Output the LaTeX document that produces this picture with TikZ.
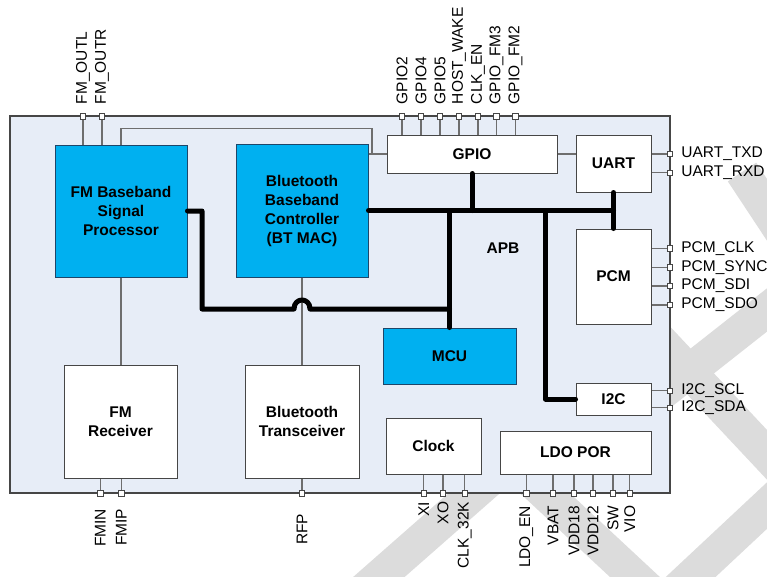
\documentclass[tikz,border=0pt]{standalone}
\usepackage{fontspec}
\setmainfont{Liberation Sans}
\usetikzlibrary{positioning}
\definecolor{chipbg}{RGB}{231,237,247}
\definecolor{bbblue}{RGB}{0,176,240}
\definecolor{bbedge}{RGB}{30,70,105}
\definecolor{edgegray}{RGB}{70,70,70}
\definecolor{wiregray}{RGB}{110,110,110}
\definecolor{wmgray}{RGB}{220,220,220}

\begin{document}
\begin{tikzpicture}[x=1pt, y=-1pt,
  blk/.style={draw=edgegray, fill=white, line width=1pt, rectangle, align=center, inner sep=0pt, font=\fontsize{15.5}{19}\selectfont\bfseries},
  bbx/.style={blk, fill=bbblue, draw=bbedge},
  pin/.style={draw=edgegray, fill=white, line width=0.8pt, rectangle, minimum size=5.5pt, inner sep=0pt},
  lbl/.style={inner sep=0pt, font=\fontsize{15.5}{18}\selectfont},
  bus/.style={line width=5pt, line cap=round, line join=round},
  wire/.style={draw=wiregray, line width=1.1pt},
  wmark/.style={draw=wmgray, line width=34pt}]
\useasboundingbox (0,0) rectangle (767,576);

\begin{scope}
\clip (0,0) rectangle (767,576);
\draw[wmark] (742,172) -- (810,275);
\draw[wmark] (805,280) -- (640,410);
\draw[wmark] (650,330) -- (800,490);
\draw[wmark] (805,470) -- (650,615);
\draw[wmark] (520,470) -- (665,605);
\draw[wmark] (347,605) -- (512,460);
\end{scope}

\node[draw=edgegray, fill=chipbg, line width=1.2pt, minimum width=660, minimum height=377, inner sep=0pt] (chip) at (340,304.5) {};

\node[bbx, minimum width=132, minimum height=132] (fmbb) at (121,211) {FM Baseband\\Signal\\Processor};
\node[bbx, minimum width=132, minimum height=133] (btbb) at (302,210.5) {Bluetooth\\Baseband\\Controller\\(BT MAC)};
\node[blk, minimum width=170, minimum height=38] (gpio) at (472,154) {GPIO};
\node[blk, minimum width=75, minimum height=57] (uart) at (613.5,163.5) {UART};
\node[blk, minimum width=75, minimum height=95] (pcm) at (613.5,276.5) {PCM};
\node[blk, minimum width=75, minimum height=32] (i2c) at (613.5,399) {I2C};
\node[bbx, minimum width=133, minimum height=56] (mcu) at (449.5,356) {MCU};
\node[blk, minimum width=113, minimum height=113] (fmrx) at (120.5,421.5) {FM\\Receiver};
\node[blk, minimum width=114, minimum height=113] (bttx) at (302,421.5) {Bluetooth\\Transceiver};
\node[blk, minimum width=95, minimum height=56] (clock) at (433.5,446) {Clock};
\node[blk, minimum width=151, minimum height=43] (ldo) at (575.5,452.5) {LDO POR};
\node[font=\fontsize{15.5}{18}\selectfont\bfseries] (apb) at (503,248) {APB};

\coordinate (loop) at (372,128.5);
\draw[wire] (fmbb.north) |- (loop) |- (gpio.west);
\draw[wire] (btbb.east |- gpio.west) -- (gpio.west);
\draw[wire] (gpio.east) -- (gpio.east -| uart.west);
\draw[wire] (fmbb.south) -- (fmbb.south |- fmrx.north);
\draw[wire] (btbb.south) -- (btbb.south |- bttx.north);

\coordinate (fmtap) at (202,211);
\coordinate (lowbus) at (202,309);
\coordinate (hopl) at (294,309);
\coordinate (hopr) at (310,309);
\coordinate (i2ctap) at (545.5,210.5);
\draw[bus] (fmbb.east) -- (fmtap) -- (lowbus) -- (hopl) .. controls ([yshift=12pt]hopl) and ([yshift=12pt]hopr) .. (hopr) -- (mcu.north |- lowbus);
\draw[bus] (btbb.east) -- (btbb.east -| uart.south);
\draw[bus] (uart.south) -- (pcm.north);
\draw[bus] (gpio.south) -- (gpio.south |- btbb.east);
\draw[bus] (mcu.north) -- (mcu.north |- btbb.east);
\draw[bus] (i2ctap) |- (i2c.west);

\node[pin] (p-fmoutl) at (83,116.5) {};
\node[pin] (p-fmoutr) at (102,116.5) {};
\node[pin] (p-gpio2) at (402,116.5) {};
\node[pin] (p-gpio4) at (421,116.5) {};
\node[pin] (p-gpio5) at (440,116.5) {};
\node[pin] (p-hostwake) at (459,116.5) {};
\node[pin] (p-clken) at (478,116.5) {};
\node[pin] (p-gpiofm3) at (496.5,116.5) {};
\node[pin] (p-gpiofm2) at (515.5,116.5) {};
\draw[wire] (p-fmoutl.south) -- (p-fmoutl |- fmbb.north);
\draw[wire] (p-fmoutr.south) -- (p-fmoutr |- fmbb.north);
\draw[wire] (p-gpio2.south) -- (p-gpio2 |- gpio.north);
\draw[wire] (p-gpio4.south) -- (p-gpio4 |- gpio.north);
\draw[wire] (p-gpio5.south) -- (p-gpio5 |- gpio.north);
\draw[wire] (p-hostwake.south) -- (p-hostwake |- gpio.north);
\draw[wire] (p-clken.south) -- (p-clken |- gpio.north);
\draw[wire] (p-gpiofm3.south) -- (p-gpiofm3 |- gpio.north);
\draw[wire] (p-gpiofm2.south) -- (p-gpiofm2 |- gpio.north);
\node[lbl, rotate=90, anchor=west] (l-fmoutl) at ([yshift=9pt]p-fmoutl.north) {FM\_OUTL};
\node[lbl, rotate=90, anchor=west] (l-fmoutr) at ([yshift=9pt]p-fmoutr.north) {FM\_OUTR};
\node[lbl, rotate=90, anchor=west] (l-gpio2) at ([yshift=9pt]p-gpio2.north) {GPIO2};
\node[lbl, rotate=90, anchor=west] (l-gpio4) at ([yshift=9pt]p-gpio4.north) {GPIO4};
\node[lbl, rotate=90, anchor=west] (l-gpio5) at ([yshift=9pt]p-gpio5.north) {GPIO5};
\node[lbl, rotate=90, anchor=west] (l-hostwake) at ([yshift=9pt]p-hostwake.north) {HOST\_WAKE};
\node[lbl, rotate=90, anchor=west] (l-clken) at ([yshift=9pt]p-clken.north) {CLK\_EN};
\node[lbl, rotate=90, anchor=west] (l-gpiofm3) at ([yshift=9pt]p-gpiofm3.north) {GPIO\_FM3};
\node[lbl, rotate=90, anchor=west] (l-gpiofm2) at ([yshift=9pt]p-gpiofm2.north) {GPIO\_FM2};

\node[pin] (p-utxd) at (670,154) {};
\node[pin] (p-urxd) at (670,172.7) {};
\node[pin] (p-pclk) at (670,248.3) {};
\node[pin] (p-psync) at (670,267.3) {};
\node[pin] (p-psdi) at (670,286) {};
\node[pin] (p-psdo) at (670,305) {};
\node[pin] (p-scl) at (670,390.7) {};
\node[pin] (p-sda) at (670,407.7) {};
\draw[wire] (p-utxd.west) -- (p-utxd -| uart.east);
\draw[wire] (p-urxd.west) -- (p-urxd -| uart.east);
\draw[wire] (p-pclk.west) -- (p-pclk -| pcm.east);
\draw[wire] (p-psync.west) -- (p-psync -| pcm.east);
\draw[wire] (p-psdi.west) -- (p-psdi -| pcm.east);
\draw[wire] (p-psdo.west) -- (p-psdo -| pcm.east);
\draw[wire] (p-scl.west) -- (p-scl -| i2c.east);
\draw[wire] (p-sda.west) -- (p-sda -| i2c.east);
\node[lbl, anchor=west] (l-utxd) at ([xshift=8pt]p-utxd.east) {UART\_TXD};
\node[lbl, anchor=west] (l-urxd) at ([xshift=8pt]p-urxd.east) {UART\_RXD};
\node[lbl, anchor=west] (l-pclk) at ([xshift=8pt]p-pclk.east) {PCM\_CLK};
\node[lbl, anchor=west] (l-psync) at ([xshift=8pt]p-psync.east) {PCM\_SYNC};
\node[lbl, anchor=west] (l-psdi) at ([xshift=8pt]p-psdi.east) {PCM\_SDI};
\node[lbl, anchor=west] (l-psdo) at ([xshift=8pt]p-psdo.east) {PCM\_SDO};
\node[lbl, anchor=west] (l-scl) at ([xshift=8pt]p-scl.east) {I2C\_SCL};
\node[lbl, anchor=west] (l-sda) at ([xshift=8pt]p-sda.east) {I2C\_SDA};

\node[pin] (p-fmin) at (100.3,493.5) {};
\node[pin] (p-fmip) at (121.3,493.5) {};
\node[pin] (p-rfp) at (302,493.5) {};
\node[pin] (p-xi) at (423.7,493.5) {};
\node[pin] (p-xo) at (443,493.5) {};
\node[pin] (p-clk32k) at (464.7,493.5) {};
\node[pin] (p-ldoen) at (526.3,493.5) {};
\node[pin] (p-vbat) at (553,493.5) {};
\node[pin] (p-vdd18) at (574,493.5) {};
\node[pin] (p-vdd12) at (593,493.5) {};
\node[pin] (p-sw) at (613,493.5) {};
\node[pin] (p-vio) at (629.7,493.5) {};
\draw[wire] (p-fmin.north) -- (p-fmin |- fmrx.south);
\draw[wire] (p-fmip.north) -- (p-fmip |- fmrx.south);
\draw[wire] (p-rfp.north) -- (p-rfp |- bttx.south);
\draw[wire] (p-xi.north) -- (p-xi |- clock.south);
\draw[wire] (p-xo.north) -- (p-xo |- clock.south);
\draw[wire] (p-clk32k.north) -- (p-clk32k |- clock.south);
\draw[wire] (p-ldoen.north) -- (p-ldoen |- ldo.south);
\draw[wire] (p-vbat.north) -- (p-vbat |- ldo.south);
\draw[wire] (p-vdd18.north) -- (p-vdd18 |- ldo.south);
\draw[wire] (p-vdd12.north) -- (p-vdd12 |- ldo.south);
\draw[wire] (p-sw.north) -- (p-sw |- ldo.south);
\draw[wire] (p-vio.north) -- (p-vio |- ldo.south);
\node[lbl, rotate=90, anchor=east] (l-fmin) at ([yshift=-12pt]p-fmin.south) {FMIN};
\node[lbl, rotate=90, anchor=east] (l-fmip) at ([yshift=-12pt]p-fmip.south) {FMIP};
\node[lbl, rotate=90, anchor=east] (l-rfp) at ([yshift=-17pt]p-rfp.south) {RFP};
\node[lbl, rotate=90, anchor=east] (l-xi) at ([yshift=-5pt]p-xi.south) {XI};
\node[lbl, rotate=90, anchor=east] (l-xo) at ([yshift=-5pt]p-xo.south) {XO};
\node[lbl, rotate=90, anchor=east] (l-clk32k) at ([yshift=-5pt]p-clk32k.south) {CLK\_32K};
\node[lbl, rotate=90, anchor=east] (l-ldoen) at ([yshift=-9pt]p-ldoen.south) {LDO\_EN};
\node[lbl, rotate=90, anchor=east] (l-vbat) at ([yshift=-9pt]p-vbat.south) {VBAT};
\node[lbl, rotate=90, anchor=east] (l-vdd18) at ([yshift=-9pt]p-vdd18.south) {VDD18};
\node[lbl, rotate=90, anchor=east] (l-vdd12) at ([yshift=-9pt]p-vdd12.south) {VDD12};
\node[lbl, rotate=90, anchor=east] (l-sw) at ([yshift=-9pt]p-sw.south) {SW};
\node[lbl, rotate=90, anchor=east] (l-vio) at ([yshift=-9pt]p-vio.south) {VIO};
\end{tikzpicture}
\end{document}
